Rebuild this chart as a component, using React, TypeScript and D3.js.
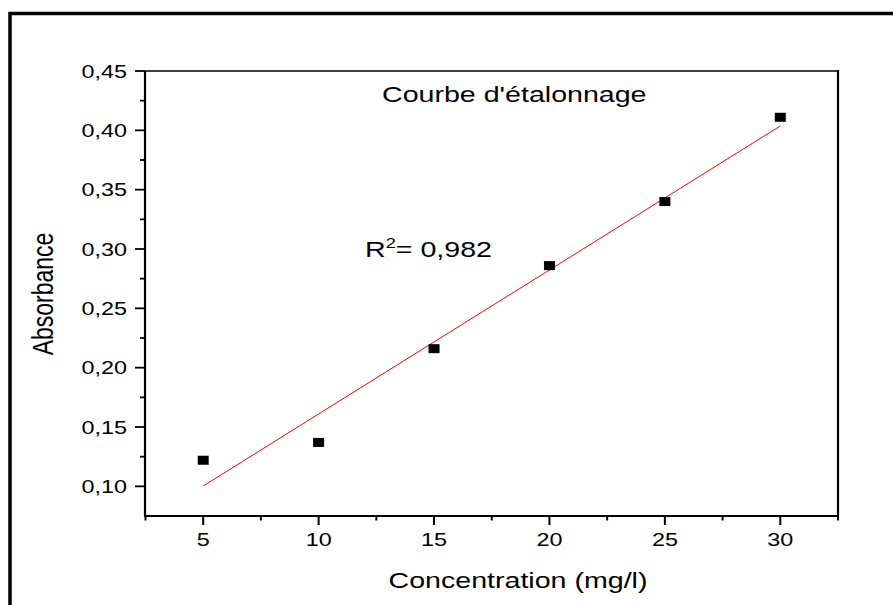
import React from "react";
import * as d3 from "d3";

const concentrations = [5, 10, 15, 20, 25, 30];
const absorbances = [0.122, 0.137, 0.216, 0.286, 0.340, 0.411];
const xMajorTicks = [5, 10, 15, 20, 25, 30];
const xMinorTicks = [2.5, 7.5, 12.5, 17.5, 22.5, 27.5, 32.5];
const yMajorTicks = [0.10, 0.15, 0.20, 0.25, 0.30, 0.35, 0.40, 0.45];
const yMinorTicks = [0.125, 0.175, 0.225, 0.275, 0.325, 0.375, 0.425];
const titleText = "Courbe d'étalonnage";
const xTitle = "Concentration (mg/l)";
const yTitle = "Absorbance";
const r2Value = "0,982";

const W = 893;
const H = 605;
const left = 145;
const right = 838;
const top = 71;
const bottom = 516;
const SX = 1.3;
const FONT = "Liberation Sans, Arial, sans-serif";

export default function App() {
  const x = d3.scaleLinear().domain([2.5, 32.5]).range([left + 0.5, right]);
  const y = d3.scaleLinear().domain([0.075, 0.45]).range([bottom, top]);
  const fmt = (v: number) => d3.format(".2f")(v).replace(".", ",");

  // least-squares fit
  const mx = d3.mean(concentrations)!;
  const my = d3.mean(absorbances)!;
  let sxy = 0, sxx = 0;
  concentrations.forEach((c, i) => {
    sxy += (c - mx) * (absorbances[i] - my);
    sxx += (c - mx) * (c - mx);
  });
  const slope = sxy / sxx;
  const intercept = my - slope * mx;
  const x0 = concentrations[0];
  const x1 = concentrations[concentrations.length - 1];
  const fitLine = d3.line<number>().x((d) => x(d)).y((d) => y(intercept + slope * d));

  return (
    <svg width={W} height={H} style={{ position: "absolute", left: 0, top: 0, display: "block" }} fontFamily={FONT}>
      <rect x={0} y={0} width={W} height={H} fill="#fff" />
      {/* outer frame */}
      <rect x={10} y={13.5} width={1000} height={1000} fill="none" stroke="#000" strokeWidth={3.5} />

      {/* plot box */}
      <rect x={left} y={top} width={right - left} height={bottom - top} fill="none" stroke="#000" strokeWidth={1.5} />
      <line x1={left} x2={left} y1={top} y2={bottom + 1} stroke="#000" strokeWidth={2.2} />
      <line x1={left - 1} x2={right + 1} y1={bottom} y2={bottom} stroke="#000" strokeWidth={2.2} />
      <line x1={right} x2={right} y1={top - 1} y2={bottom} stroke="#000" strokeWidth={2.2} />

      {/* x ticks */}
      {xMajorTicks.map((t) => (
        <g key={"xm" + t}>
          <line x1={x(t)} x2={x(t)} y1={bottom} y2={bottom + 9} stroke="#000" strokeWidth={2} />
          <text transform={`translate(${x(t)},${bottom + 30}) scale(${SX},1)`} textAnchor="middle" fontSize={18} fill="#000">
            {t}
          </text>
        </g>
      ))}
      {xMinorTicks.map((t) => (
        <line key={"xn" + t} x1={x(t)} x2={x(t)} y1={bottom} y2={bottom + 4.5} stroke="#000" strokeWidth={2} />
      ))}

      {/* y ticks */}
      {yMajorTicks.map((t) => (
        <g key={"ym" + t}>
          <line x1={left - 10} x2={left} y1={y(t)} y2={y(t)} stroke="#000" strokeWidth={1.8} />
          <text transform={`translate(${left - 18},${y(t) + 6.5}) scale(${SX},1)`} textAnchor="end" fontSize={18} fill="#000">
            {fmt(t)}
          </text>
        </g>
      ))}
      {yMinorTicks.map((t) => (
        <line key={"yn" + t} x1={left - 5} x2={left} y1={y(t)} y2={y(t)} stroke="#000" strokeWidth={1.8} />
      ))}

      {/* fit line */}
      <path d={fitLine([x0, x1])!} fill="none" stroke="#ff0000" strokeWidth={1} />

      {/* points */}
      {concentrations.map((c, i) => (
        <rect key={"p" + i} x={x(c) - 5.5} y={y(absorbances[i]) - 4.5} width={11} height={9} fill="#000" />
      ))}

      {/* title */}
      <text transform={`translate(382,102) scale(${SX},1)`} fontSize={22} fill="#000">
        {titleText}
      </text>

      {/* R2 */}
      <text transform={`translate(365,257) scale(${SX},1)`} fontSize={22} fill="#000">
        R<tspan fontSize={14} dy={-9}>2</tspan>
        <tspan dy={9}>= {r2Value}</tspan>
      </text>

      {/* axis titles */}
      <text transform={`translate(518,588) scale(${SX},1)`} textAnchor="middle" fontSize={22} fill="#000">
        {xTitle}
      </text>
      <text transform={`translate(53,294) rotate(-90) scale(1,${SX})`} textAnchor="middle" fontSize={23} fill="#000">
        {yTitle}
      </text>
    </svg>
  );
}
